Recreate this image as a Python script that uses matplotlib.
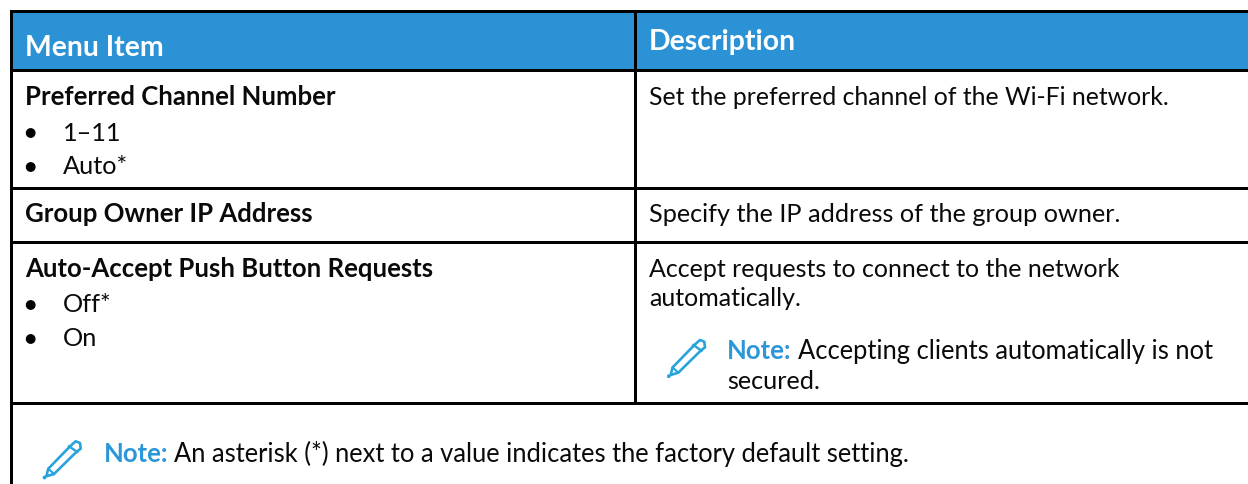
"""
plot.py — Redraw the menu item / description table from a printer manual.

Output: out.png (1248 x 484 px)
"""

import matplotlib
matplotlib.use('Agg')
import matplotlib.pyplot as plt
from matplotlib.patches import Rectangle, Polygon, Circle

plt.rcParams['font.family'] = ['Lato', 'DejaVu Sans']

# ── Table text ───────────────────────────────────────────────────────────────
HEADERS = ['Menu Item', 'Description']
ITEM_TITLES = ['Preferred Channel Number', 'Group Owner IP Address',
               'Auto-Accept Push Button Requests']
ITEM_OPTIONS = [['1–11', 'Auto*'], [], ['Off*', 'On']]
DESCRIPTIONS = [['Set the preferred channel of the Wi-Fi network.'],
                ['Specify the IP address of the group owner.'],
                ['Accept requests to connect to the network', 'automatically.']]
CELL_NOTE = ['Accepting clients automatically is not', 'secured.']
FOOT_NOTE = 'An asterisk (*) next to a value indicates the factory default setting.'

# ── Palette ──────────────────────────────────────────────────────────────────
HEAD_BLUE = '#2b92d5'
NOTE_BLUE = '#2b97d8'
ICON_BLUE = '#29a3dc'
BLACK = '#0a0a0a'

# ── Layout (pixels, y down; text y is the baseline) ──────────────────────────
W, H = 1248, 484
LEFT = 11.3
COL = 635
HEAD_TOP = 10.5
HEAD_BOT = 69.5
ROW_LINES = [187.5, 241.5, 402.5]
TITLE_Y = [105, 222, 277]
OPT_Y = [[141, 174], [], [312, 346]]
BULLET_Y = [[133, 167], [], [305, 339]]
DESC_Y = [[105], [222], [277, 306]]
DESC_FS = [17.8, 18.2, 18.0]   # Lato runs a little different per line
FS = 18.2
NOTE_FS = 18.4
BOLD_FS = 18.5
HEAD_FS = 20.4
LW = 2.16   # 3 px at this dpi

fig = plt.figure(figsize=(W / 100, H / 100), dpi=100)
ax = fig.add_axes([0, 0, 1, 1])
ax.set_xlim(0, W)
ax.set_ylim(H, 0)
ax.axis('off')


def pencil(x, y):
    """Note pencil icon, (x, y) is the tip."""
    pts = [(4.3, -9.3), (26.7, -32.3), (31.7, -36.7), (36, -35),
           (36.7, -29.3), (32.3, -26), (10, -4), (2.3, -1.7)]
    ax.add_patch(Polygon([(x + a, y + b) for a, b in pts], closed=True, fill=False,
                         edgecolor=ICON_BLUE, lw=1.9, joinstyle='round', zorder=4))
    ax.plot([x + 25, x + 33.3], [y - 31.7, y - 26], color=ICON_BLUE, lw=1.7, zorder=4)
    ax.plot([x + 4.3, x + 10], [y - 9.3, y - 4], color=ICON_BLUE, lw=1.5, zorder=4)
    ax.add_patch(Circle((x + 0.5, y - 0.5), 1.2, color=ICON_BLUE, zorder=4))


def note(x, y, text):
    """Blue bold 'Note:' followed by plain text, on one baseline."""
    t = ax.text(x, y, 'Note:', fontsize=BOLD_FS, fontweight='bold', color=NOTE_BLUE,
                va='baseline', ha='left', zorder=5)
    fig.canvas.draw()
    end = ax.transData.inverted().transform(t.get_window_extent().get_points())[1][0]
    ax.text(end + 6, y, text, fontsize=NOTE_FS, color=BLACK, va='baseline', ha='left', zorder=5)


# Header band
ax.add_patch(Rectangle((9.5, HEAD_TOP), W - 9.5, HEAD_BOT - HEAD_TOP,
                       facecolor=HEAD_BLUE, edgecolor='none', zorder=1))
ax.text(25, 56, HEADERS[0], fontsize=HEAD_FS, fontweight='bold', color='white',
        va='baseline', zorder=5)
ax.text(649, 50, HEADERS[1], fontsize=HEAD_FS, fontweight='bold', color='white',
        va='baseline', zorder=5)

# Rules
ax.plot([LEFT, W], [HEAD_TOP, HEAD_TOP], color='black', lw=LW, solid_capstyle='projecting', zorder=3)
for y in [HEAD_BOT] + ROW_LINES:
    ax.plot([LEFT, W], [y, y], color='black', lw=LW, solid_capstyle='butt', zorder=3)
ax.plot([LEFT, LEFT], [HEAD_TOP, H], color='black', lw=LW, solid_capstyle='butt', zorder=3)
ax.plot([COL, COL], [HEAD_TOP, ROW_LINES[-1]], color='black', lw=LW, solid_capstyle='butt', zorder=3)

# Left column
for title, ty, opts, oy, by in zip(ITEM_TITLES, TITLE_Y, ITEM_OPTIONS, OPT_Y, BULLET_Y):
    ax.text(25, ty, title, fontsize=BOLD_FS, fontweight='bold', color=BLACK,
            va='baseline', zorder=5)
    for o, y, yb in zip(opts, oy, by):
        ax.add_patch(Circle((30.7, yb), 4.2, color='black', zorder=5))
        ax.text(63, y, o, fontsize=FS, color=BLACK, va='baseline', zorder=5)

# Right column
for lines, ys, fs in zip(DESCRIPTIONS, DESC_Y, DESC_FS):
    for line, y in zip(lines, ys):
        ax.text(649, y, line, fontsize=fs, color=BLACK, va='baseline', zorder=5)

note(727, 359, CELL_NOTE[0])
ax.text(727, 389, CELL_NOTE[1], fontsize=FS, color=BLACK, va='baseline', zorder=5)
pencil(668.3, 376.7)

note(104, 462, FOOT_NOTE)
pencil(44, 478)

fig.savefig('out.png', dpi=100, facecolor='white')
